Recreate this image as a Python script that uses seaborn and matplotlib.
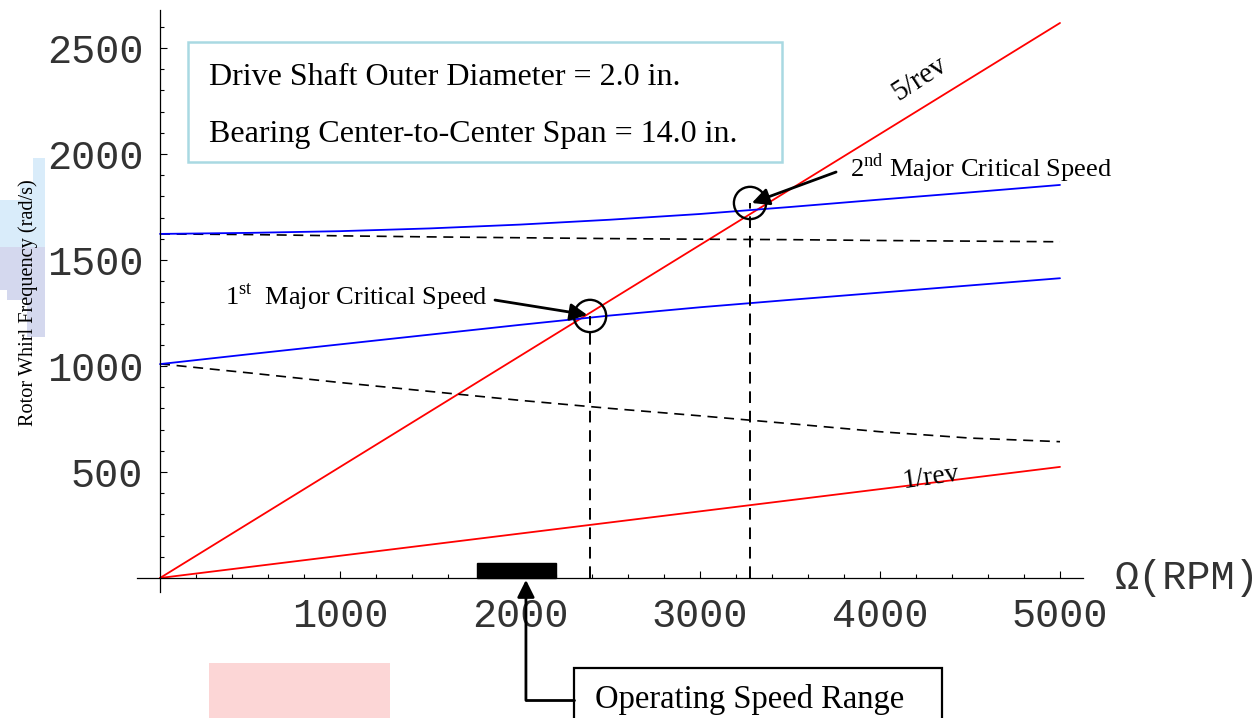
import numpy as np
import pandas as pd
import matplotlib.pyplot as plt
import matplotlib.patches as mpatches
import seaborn as sns

# values (rotor speed in RPM, whirl frequency in rad/s)
speed = [0, 500, 1000, 1500, 2000, 2500, 3000, 3500, 4000, 4500, 5000]
fw_upper = [1623, 1628, 1636, 1649, 1667, 1690, 1717, 1750, 1785, 1819, 1854]
bw_upper = [1623, 1620, 1614, 1609, 1605, 1601, 1598, 1596, 1592, 1589, 1586]
fw_lower = [1009, 1056, 1102, 1148, 1194, 1238, 1277, 1312, 1346, 1380, 1414]
bw_lower = [1010, 967, 922, 880, 838, 800, 765, 728, 690, 660, 643]
rev_speed = [0, 5000]
one_rev = [0, 524]
five_rev = [0, 2618]
crit_speed = [2389, 3278]
crit_freq = [1236, 1769]
op_range = [1760, 2200]
xticks = [1000, 2000, 3000, 4000, 5000]
yticks = [500, 1000, 1500, 2000, 2500]

sns.set_theme(style="white")
plt.rcParams['font.family'] = ['Liberation Serif', 'DejaVu Serif']
plt.rcParams['mathtext.fontset'] = 'custom'
plt.rcParams['mathtext.rm'] = 'Liberation Serif'
plt.rcParams['text.color'] = 'black'

fig = plt.figure(figsize=(12.58, 7.18), dpi=100)
ax = fig.add_axes([0, 0, 1, 1])
ax.set_xlim(-888.9, 6100)
ax.set_ylim(-660.4, 2726.4)
ax.patch.set_alpha(0)

# scanning artefacts in the background
fig.patches.append(mpatches.Polygon(
    [(33/1258, 1-158/718), (45/1258, 1-158/718), (45/1258, 1-267/718), (0, 1-267/718),
     (0, 1-200/718), (20/1258, 1-200/718), (20/1258, 1-183/718), (33/1258, 1-183/718)],
    closed=True, transform=fig.transFigure, fc='#d9ecfa', ec='none', zorder=-5))
fig.patches.append(mpatches.Polygon(
    [(0, 1-247/718), (45/1258, 1-247/718), (45/1258, 1-337/718), (27/1258, 1-337/718),
     (27/1258, 1-300/718), (7/1258, 1-300/718), (7/1258, 1-290/718), (0, 1-290/718)],
    closed=True, transform=fig.transFigure, fc='#d4d8ee', ec='none', zorder=-5))
fig.patches.append(mpatches.Rectangle((209/1258, 0), 181/1258, 55/718,
                                      transform=fig.transFigure, fc='#fcd6d6', ec='none', zorder=-5))

# curves
red = '#ff0000'
blue = '#0000ff'
sns.lineplot(x=rev_speed, y=five_rev, color=red, lw=1.3, ax=ax)
sns.lineplot(x=rev_speed, y=one_rev, color=red, lw=1.3, ax=ax)
sns.lineplot(x=speed, y=bw_upper, color='black', lw=1.2, linestyle=(0, (6, 4)), ax=ax)
sns.lineplot(x=speed, y=bw_lower, color='black', lw=1.2, linestyle=(0, (6, 4)), ax=ax)
sns.lineplot(x=speed, y=fw_upper, color=blue, lw=1.3, ax=ax)
sns.lineplot(x=speed, y=fw_lower, color=blue, lw=1.3, ax=ax)

# critical speed markers
for s, f in zip(crit_speed, crit_freq):
    ax.plot([s, s], [0, f], color='black', lw=1.4, linestyle=(0, (6, 4)))
ax.scatter(crit_speed, crit_freq, s=540, facecolors='none', edgecolors='black', linewidths=1.7, zorder=5)

# operating speed range bar
ax.add_patch(mpatches.Rectangle((op_range[0], 0), op_range[1] - op_range[0], 70,
                                fc='black', ec='black', zorder=4))

# axes through the origin
for side in ['top', 'right']:
    ax.spines[side].set_visible(False)
ax.spines['left'].set_position(('data', 0))
ax.spines['bottom'].set_position(('data', 0))
ax.spines['left'].set_bounds(-66, 2679)
ax.spines['bottom'].set_bounds(-128, 5128)
for side in ['left', 'bottom']:
    ax.spines[side].set_color('black')
    ax.spines[side].set_linewidth(0.9)
ax.set_xticks(xticks)
ax.set_yticks(yticks)
ax.set_xticks(np.arange(200, 5001, 200), minor=True)
ax.set_yticks(np.arange(100, 2601, 100), minor=True)
ax.tick_params(which='both', direction='in', color='black', width=0.8, left=True, bottom=True)
ax.tick_params(which='major', length=5)
ax.tick_params(which='minor', length=3)
ax.tick_params(axis='x', pad=14)
ax.tick_params(axis='y', pad=12)
for lab in ax.get_xticklabels() + ax.get_yticklabels():
    lab.set_fontfamily('Liberation Mono')
    lab.set_fontsize(29)
    lab.set_color('#333333')

ax.text(5120 + 185, 0, 'Ω(RPM)', family='Liberation Mono', fontsize=29, va='center', ha='left',
        color='#333333')
ax.text(-733, 1300, 'Rotor Whirl Frequency (rad/s)', rotation=90, fontsize=14.6,
        ha='center', va='center')

# parameter box
ax.add_patch(mpatches.Rectangle((156, 1962), 3300, 566, fill=False, ec='#a9d9e2', lw=1.8))
ax.text(272, 2363, 'Drive Shaft Outer Diameter = 2.0 in.', fontsize=23, va='center')
ax.text(272, 2094, 'Bearing Center-to-Center Span = 14.0 in.', fontsize=23, va='center')

# line labels
ax.text(4222, 2354, '5/rev', fontsize=21, rotation=33, ha='center', va='center')
ax.text(4283, 472, '1/rev', fontsize=20, rotation=8, ha='center', va='center')

arrow = dict(arrowstyle='-|>', color='black', lw=2, mutation_scale=26, shrinkA=0, shrinkB=0)
ax.annotate('', xy=(crit_speed[0] - 15, crit_freq[0] + 5), xytext=(1861, 1311), arrowprops=arrow)
ax.text(361, 1330, '1$^{\\rm st}$  Major Critical Speed', fontsize=19, va='center')
ax.annotate('', xy=(crit_speed[1] + 10, crit_freq[1]), xytext=(3756, 1915), arrowprops=arrow)
ax.text(3833, 1934, '2$^{\\rm nd}$ Major Critical Speed', fontsize=19, va='center')

# operating speed range call-out
ax.add_patch(mpatches.Rectangle((2300, -800), 2044, 375, fc='white', ec='black', lw=1.6, clip_on=False))
ax.text(2417, -575, 'Operating Speed Range', fontsize=23.5, va='center')
ax.plot([2033, 2300], [-575, -575], color='black', lw=2)
ax.annotate('', xy=(2033, -9), xytext=(2033, -577), arrowprops=arrow)

fig.savefig('out.png', dpi=100)
